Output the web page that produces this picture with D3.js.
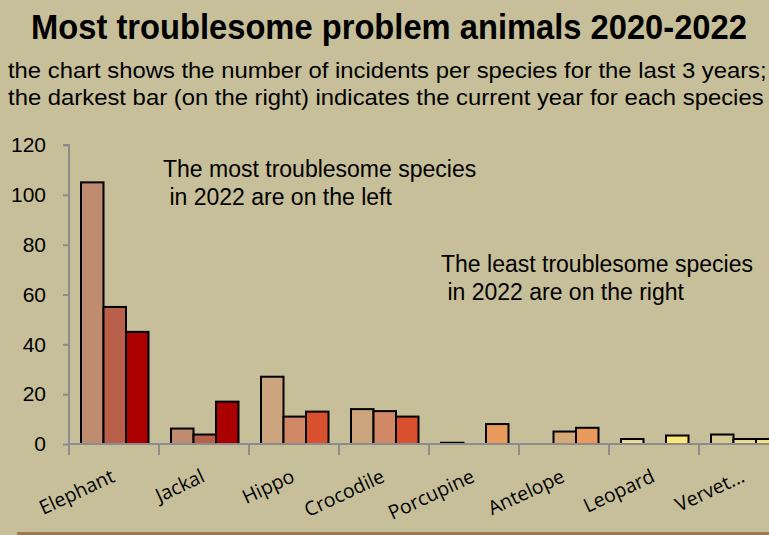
<!DOCTYPE html>
<html><head><meta charset="utf-8">
<script src="https://cdn.jsdelivr.net/npm/d3@7"></script>
<style>html,body{margin:0;padding:0;background:#C6BF99;}svg{display:block;}</style>
</head><body>
<script>
const categories = ["Elephant","Jackal","Hippo","Crocodile","Porcupine","Antelope","Leopard","Vervet..."];
const years = ["2020","2021","2022"];
const values2020 = [105, 6.2, 27, 14, 0.5, 0, 2, 3.8];
const values2021 = [55, 3.8, 11, 13.2, 0, 5, 0, 2];
const values2022 = [45, 17, 13, 11, 8, 6.5, 3.4, 2];
const barColors = [
  ["#C08C70","#B8604A","#AA0000"],
  ["#C08C70","#B8604A","#AA0000"],
  ["#CCA47E","#D08866","#D8502E"],
  ["#CCA47E","#D08866","#D8502E"],
  ["#D4A878","#E89C5E","#EA9A5C"],
  ["#D4A878","#D4A878","#EA9A5C"],
  ["#EEDC98","#F4E27E","#FCE77A"],
  ["#D6CA92","#EEDE90","#F8E27A"]
];
const yTicks = [0,20,40,60,80,100,120];

const W = 769, H = 535;
const svg = d3.select("body").append("svg").attr("width", W).attr("height", H);
svg.append("rect").attr("width", W).attr("height", H).attr("fill", "#C6BF99");

const x = d3.scaleBand().domain(categories).range([69, 789]);
const xs = d3.scaleBand().domain(years).range([12, 79.5]);
const y = d3.scaleLinear().domain([0,120]).range([444,145]);

// y axis
const yAxis = d3.axisLeft(y).tickValues(yTicks).tickSize(6).tickPadding(17);
const gy = svg.append("g").attr("transform","translate(69,0)").call(yAxis);
gy.select(".domain").attr("stroke","#8C8C8C").attr("stroke-width",2).attr("d","M-6,145H0V454");
gy.selectAll(".tick line").attr("stroke","#8C8C8C").attr("stroke-width",2);
gy.selectAll(".tick text").attr("fill","#000").style("font-family","Liberation Sans, Arial, sans-serif").style("font-size","21px");

// bars
const rows = categories.map((c,i)=>({c, vals:[values2020[i],values2021[i],values2022[i]], cols: barColors[i]}));
const groups = svg.append("g").selectAll("g").data(rows).join("g")
  .attr("transform", d=>`translate(${x(d.c)},0)`);
groups.selectAll("rect").data(d=>d.vals.map((v,j)=>({v, yr: years[j], col: d.cols[j]})).filter(e=>e.v>0))
  .join("rect")
  .attr("x", e=>xs(e.yr))
  .attr("width", xs.bandwidth())
  .attr("y", e=>y(e.v))
  .attr("height", e=>y(0)-y(e.v))
  .attr("fill", e=>e.col)
  .attr("stroke","#000").attr("stroke-width",2);

// x axis
const xAxis = d3.axisBottom(x).tickSize(0).tickFormat("");
const gx = svg.append("g").attr("transform","translate(0,444)").call(xAxis);
gx.select(".domain").attr("stroke","#8C8C8C").attr("stroke-width",2).attr("d","M69,0H769");
svg.append("g").selectAll("line").data(categories).join("line")
  .attr("x1", d=>x(d)).attr("x2", d=>x(d)).attr("y1",444).attr("y2",455)
  .attr("stroke","#8C8C8C").attr("stroke-width",2);
svg.append("g").selectAll("text").data(categories).join("text")
  .attr("transform", d=>`translate(${x(d)+x.bandwidth()/2+2},481) rotate(-25)`)
  .attr("text-anchor","end")
  .style("font-family","Open Sans, sans-serif").style("font-size","19.5px")
  .text(d=>d);

// condensed text helper: scale horizontally to a target width
function fitText(t, x0, y0, width, anchor) {
  const n = t.node();
  const w = n.getComputedTextLength();
  const k = width / w;
  t.attr("x", 0).attr("y", 0)
   .attr("text-anchor", anchor)
   .attr("transform", `translate(${x0},${y0}) scale(${k},1)`);
}
const title = svg.append("text")
  .style("font-family","Liberation Sans, Arial, sans-serif").style("font-weight","bold").style("font-size","35px")
  .text("Most troublesome problem animals 2020-2022");
fitText(title, 389, 39, 716, "middle");
const sub1 = svg.append("text")
  .style("font-family","Liberation Sans, Arial, sans-serif").style("font-size","22px")
  .text("the chart shows the number of incidents per species for the last 3 years;");
fitText(sub1, 8, 78, 759, "start");
const sub2 = svg.append("text")
  .style("font-family","Liberation Sans, Arial, sans-serif").style("font-size","22px")
  .text("the darkest bar (on the right) indicates the current year for each species");
fitText(sub2, 8, 105, 756, "start");

// annotations
const ann = (lines, x0, y0) => {
  lines.forEach((t,i)=>svg.append("text").attr("x",x0).attr("y",y0+i*28)
    .style("font-family","Liberation Sans, Arial, sans-serif").style("font-size","23px")
    .style("white-space","pre").attr("xml:space","preserve").text(t));
};
ann(["The most troublesome species"," in 2022 are on the left"],163,177);
ann(["The least troublesome species"," in 2022 are on the right"],441,272);

// bottom line
svg.append("rect").attr("x",17).attr("y",532).attr("width",752).attr("height",3).attr("fill","#9A7A4E");
</script>
</body></html>
